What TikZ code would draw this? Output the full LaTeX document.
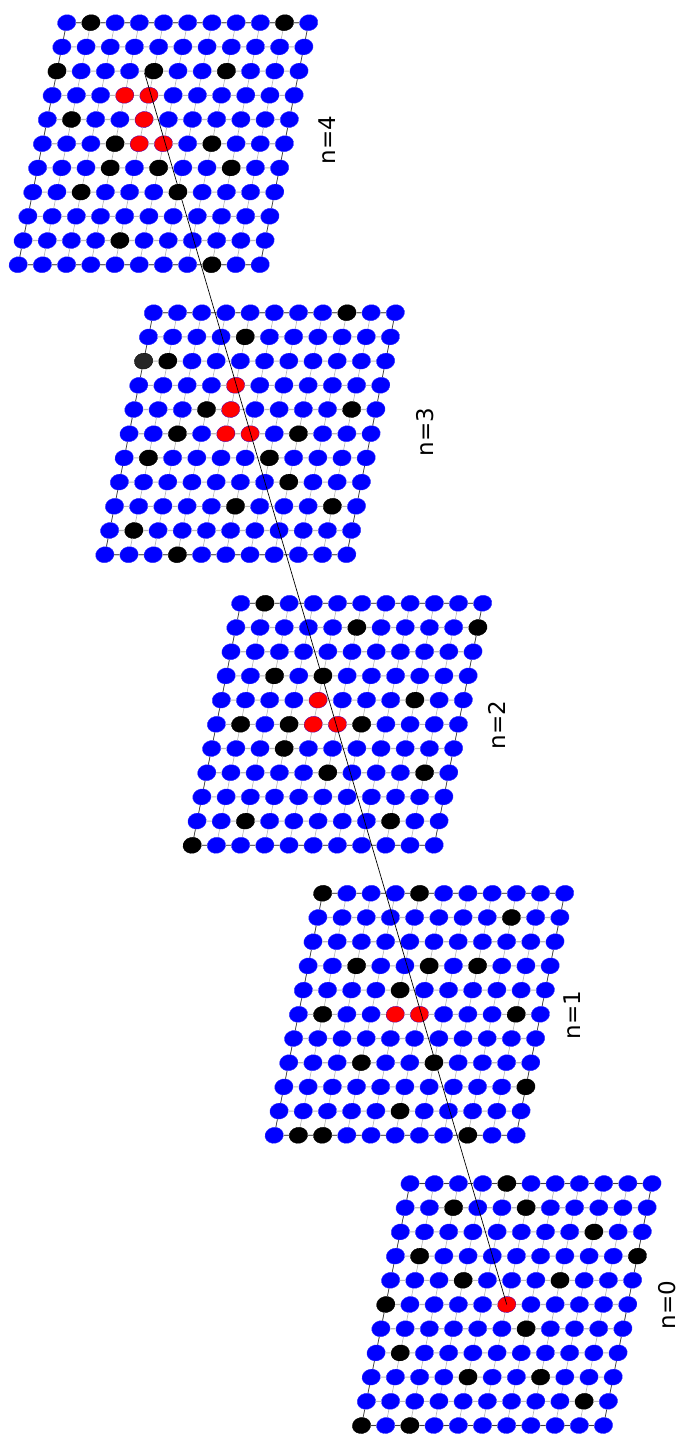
\documentclass[tikz,border=0pt]{standalone}
\usepackage{fontspec}
\setmainfont{DejaVu Sans}
\usetikzlibrary{shapes.geometric}

% marked sites: panel, row, column, fill, outline
\newcommand\marksite[5]{%
  \expandafter\gdef\csname site#1-#2-#3\endcsname{#4}%
  \expandafter\gdef\csname rim#1-#2-#3\endcsname{#5}}
\foreach \r/\c in {0/4,1/2,1/5,2/8,3/1,3/10,4/3,4/7,5/0,6/6,7/1,8/4,8/7,9/9,10/0,10/2} {\marksite{0}{\r}{\c}{black}{black}}
\foreach \r/\c in {0/0,0/4,1/8,3/2,3/5,3/7,4/4,5/1,5/9,7/3,7/6,8/10,9/5,10/1,10/2,10/8} {\marksite{1}{\r}{\c}{black}{black}}
\foreach \r/\c in {0/1,1/5,1/10,3/2,3/4,4/8,5/1,5/3,5/6,6/3,7/5,7/9,9/2,9/8,10/0} {\marksite{2}{\r}{\c}{black}{black}}
\foreach \r/\c in {0/8,1/4,2/1,4/3,4/9,5/2,5/7,6/1,6/6,7/7,8/5,8/9,9/1,10/3} {\marksite{3}{\r}{\c}{black}{black}}
\marksite{3}{2}{0}{black!85}{black}
\foreach \r/\c in {0/1,0/9,2/0,2/4,2/7,4/1,5/3,5/7,6/3,6/5,6/8,7/2,7/6,9/4,10/8} {\marksite{4}{\r}{\c}{black}{black}}
\foreach \k/\r/\c in {0/5/5, 1/5/4,1/5/5, 2/4/4,2/5/4,2/5/5, 3/3/4,3/4/4,3/5/4,3/5/5,
  4/3/3,4/3/4,4/4/4,4/5/4,4/5/5} {\marksite{\k}{\r}{\c}{red}{blue!70!red}}

\begin{document}
\begin{tikzpicture}[x=1pt, y=-1pt,
  site/.style={ellipse, inner sep=0pt, minimum width=18.5pt, minimum height=16pt,
    rotate=12, line width=0.35pt},
  hbond/.style={gray!55, line width=1.1pt},
  vbond/.style={gray!60, line width=0.6pt},
  rim/.style={black!75, line width=0.7pt},
  lab/.style={rotate=90, font=\fontsize{23}{27}\selectfont, inner sep=0pt},
  path/.style={black, line width=0.7pt}]
\useasboundingbox (0,0) rectangle (682,1436);

% lattices
\foreach \k/\ox/\oy in {0/410/1183.5, 1/322.7/893.3, 2/240.7/603.3, 3/153.3/312.7, 4/66.7/22.7} {
  \foreach \r in {0,...,10} {
    \foreach \c in {0,...,10} {
      \ifcsname site\k-\r-\c\endcsname
        \edef\col{\csname site\k-\r-\c\endcsname}%
        \edef\rcol{\csname rim\k-\r-\c\endcsname}%
      \else
        \def\col{blue}\def\rcol{blue!80!white}%
      \fi
      \node[site, fill=\col, draw=\rcol] (p\k-\r-\c) at (\ox+24.2*\c-4.85*\r, \oy+24.2*\r) {};
    }
  }
}

% bonds
\foreach \k in {0,...,4} {
  \foreach \r in {0,...,10} {
    \foreach \c [count=\d] in {0,...,9} {
      \draw[hbond] (p\k-\r-\c) -- (p\k-\r-\d);
      \draw[vbond] (p\k-\c-\r) -- (p\k-\d-\r);
    }
  }
  \foreach \a [count=\b] in {0,...,9} {
    \draw[rim] (p\k-0-\a) -- (p\k-0-\b);
    \draw[rim] (p\k-10-\a) -- (p\k-10-\b);
    \draw[rim] (p\k-\a-0) -- (p\k-\b-0);
    \draw[rim] (p\k-\a-10) -- (p\k-\b-10);
  }
}

% labels
\node[lab] (n0) at (667,1305) {n=0};
\node[lab] (n1) at (572,1015) {n=1};
\node[lab] (n2) at (497,725) {n=2};
\node[lab] (n3) at (425,432) {n=3};
\node[lab] (n4) at (327,140) {n=4};

\draw[path] (p0-5-5.center) -- (p4-2-4.west);
\end{tikzpicture}
\end{document}
